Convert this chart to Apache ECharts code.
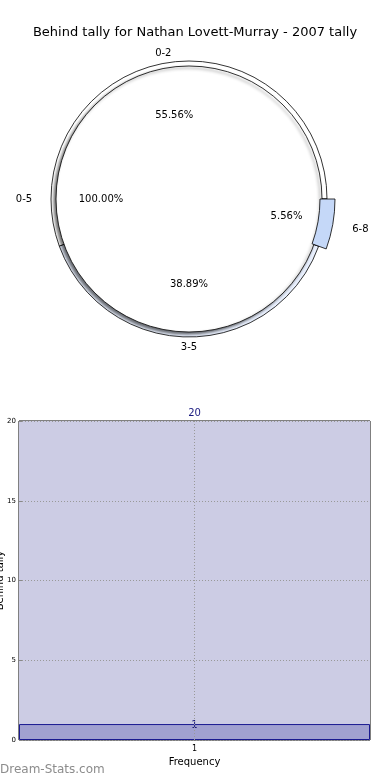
<!DOCTYPE html>
<html><head><meta charset="utf-8">
<script src="https://cdn.jsdelivr.net/npm/echarts@6/dist/echarts.min.js"></script>
<style>html,body{margin:0;padding:0;background:#fff}#c{width:390px;height:780px}</style>
</head><body><div id="c"></div>
<script>
const outerNames = ['0-2', '3-5', '6-8'];
const outerValues = [10, 7, 1];
const innerNames = ['0-5'];
const innerValues = [18];
const barCategories = ['1'];
const barTotal = [20];
const barValues = [1];
const yTicks = [0, 5, 10, 15, 20];

const FONT = 'DejaVu Sans';
const C = [189, 199];
const outerColors = ['#ffffff', '#e8effd', '#c5d8f8'];
const sum = a => a.reduce((s, v) => s + v, 0);
const pctOf = (vals) => p => (vals[p.dataIndex] / sum(vals) * 100).toFixed(2) + '%';
const outerData = outerNames.map((n, i) => ({ name: n, value: outerValues[i], itemStyle: { color: outerColors[i] } }));
const innerData = innerNames.map((n, i) => ({ name: n, value: innerValues[i], itemStyle: { color: '#ffffff' } }));
const transparent = { color: 'rgba(0,0,0,0)', borderWidth: 0 };

// transparent pie used only to place labels at a given distance from the centre
function labelPie(names, values, clockwise, radius, shownIdx, formatter) {
  return {
    type: 'pie', center: C, radius: radius, startAngle: 0, clockwise: clockwise,
    data: names.map((n, i) => ({ name: n, value: values[i], label: { show: shownIdx.indexOf(i) >= 0 } })),
    itemStyle: transparent, labelLine: { show: false }, emphasis: { disabled: true },
    label: { show: true, position: 'inside', formatter: formatter, fontSize: 10, color: '#000', fontFamily: FONT },
    silent: true, z: 5
  };
}

const chart = echarts.init(document.getElementById('c'), null, { renderer: 'canvas' });
chart.setOption({
  animation: false,
  textStyle: { fontFamily: FONT },
  title: [
    { text: 'Behind tally for Nathan Lovett-Murray - 2007 tally', left: 'center', top: 21,
      textStyle: { fontSize: 13, fontWeight: 'normal', color: '#000', fontFamily: FONT } },
    { text: 'Dream-Stats.com', left: 0, top: 764, padding: 0,
      textStyle: { fontSize: 12, fontWeight: 'normal', color: '#8c8c8c', fontFamily: FONT } }
  ],
  grid: { left: 19, right: 20, top: 421, bottom: 40, show: true, borderColor: '#000', borderWidth: 1,
          backgroundColor: 'transparent', outerBoundsMode: 'none', containLabel: false },
  xAxis: {
    type: 'category', data: barCategories, boundaryGap: true, z: 10,
    name: 'Frequency', nameLocation: 'middle', nameGap: 17,
    nameTextStyle: { fontSize: 10, color: '#000', fontFamily: FONT },
    axisLine: { show: false }, axisTick: { show: false },
    axisLabel: { fontSize: 8, color: '#000', margin: 5, fontFamily: FONT },
    splitLine: { show: false }
  },
  yAxis: {
    type: 'value', min: yTicks[0], max: yTicks[yTicks.length - 1], interval: 5, z: 10,
    name: 'Behind tally', nameLocation: 'middle', nameGap: 14, nameMoveOverlap: false,
    nameTextStyle: { fontSize: 10, color: '#000', fontFamily: FONT },
    axisLine: { show: false },
    axisTick: { show: true, inside: true, length: 3, lineStyle: { color: '#888' } },
    axisLabel: { fontSize: 7, color: '#000', margin: 3, fontFamily: FONT },
    splitLine: { show: true, lineStyle: { type: [1, 2], color: '#999', width: 1 } }
  },
  series: [
    {
      type: 'pie', center: C, radius: [0, 138], startAngle: 0, clockwise: false,
      data: outerData, label: { show: false }, labelLine: { show: false }, emphasis: { disabled: true },
      itemStyle: { borderColor: '#000', borderWidth: 0.8 }, silent: true, z: 1
    },
    {
      type: 'pie', center: C, radius: [131, 146], startAngle: 0, clockwise: false,
      data: outerData.map((d, i) => i === 2 ? d : { name: d.name, value: d.value, itemStyle: transparent }),
      label: { show: false }, labelLine: { show: false }, emphasis: { disabled: true },
      itemStyle: { borderColor: '#000', borderWidth: 0.8 }, silent: true, z: 3
    },
    {
      type: 'pie', center: C, radius: [0, 133], startAngle: 0, clockwise: true,
      data: innerData, label: { show: false }, labelLine: { show: false }, emphasis: { disabled: true },
      itemStyle: { borderColor: '#000', borderWidth: 0.8, shadowBlur: 3, shadowOffsetX: -2, shadowOffsetY: 2, shadowColor: 'rgba(0,0,0,0.55)' },
      silent: true, z: 2
    },
    labelPie(outerNames, outerValues, false, [74, 90], [0, 1], pctOf(outerValues)),
    labelPie(outerNames, outerValues, false, [88, 104], [2], pctOf(outerValues)),
    labelPie(innerNames, innerValues, true, [78, 92], [0], pctOf(innerValues)),
    labelPie(outerNames, outerValues, false, [138, 152], [0, 1], '{b}'),
    labelPie(outerNames, outerValues, false, [164, 178], [2], '{b}'),
    labelPie(innerNames, innerValues, true, [155, 169], [0], '{b}'),
    {
      type: 'bar', data: barTotal, barWidth: '100%', barGap: '-100%', z: 1,
      itemStyle: { color: '#cccce4' },
      label: { show: true, position: 'top', distance: 3, fontSize: 10, color: '#1a1a80', fontFamily: FONT },
      markLine: { silent: true, symbol: 'none', label: { show: false }, z: 10,
        lineStyle: { type: [1, 2], color: '#999', width: 1 }, data: [{ xAxis: barCategories[0] }] }
    },
    {
      type: 'bar', data: barValues, barWidth: '100%', barGap: '-100%', z: 2,
      itemStyle: { color: '#a1a1d0', borderColor: '#1a1a90', borderWidth: 1 },
      label: { show: true, position: 'top', distance: -6, fontSize: 10, color: '#1a1a80', fontFamily: FONT }
    }
  ]
});
</script></body></html>
